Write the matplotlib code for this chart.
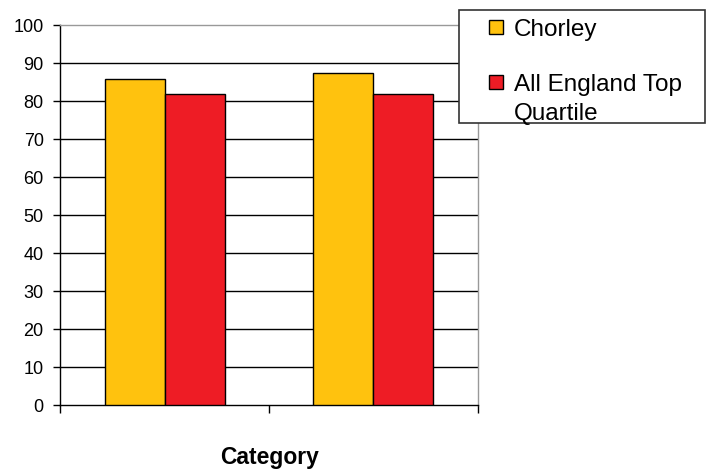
import matplotlib
matplotlib.use("Agg")
import matplotlib.pyplot as plt
from matplotlib.patches import Rectangle
from matplotlib.legend_handler import HandlerPatch
import numpy as np

categories = ["", ""]
series_names = ["Chorley", "All England Top\nQuartile"]
chorley = [85.9, 87.3]
england = [81.8, 81.8]
colors = ["#FFC20E", "#EE1C25"]
yticks = list(range(0, 101, 10))

plt.rcParams['font.family'] = ['Liberation Sans', 'DejaVu Sans']

W, H = 712, 471
fig = plt.figure(figsize=(W/100, H/100), dpi=100)
ax = fig.add_axes([60.3/W, 1-405/H, (477.7-60.3)/W, (405-25)/H])

x = np.arange(len(categories))
w = 0.287
b1 = ax.bar(x - w/2, chorley, w, color=colors[0], edgecolor="black", linewidth=1, label=series_names[0], zorder=3)
b2 = ax.bar(x + w/2, england, w, color=colors[1], edgecolor="black", linewidth=1, label=series_names[1], zorder=3)

ax.set_xlim(-0.5, len(categories) - 0.5)
ax.set_ylim(0, 100)
ax.set_yticks(yticks)
ax.set_yticklabels([str(t) for t in yticks], fontsize=13)
ax.set_xticks(np.arange(-0.5, len(categories), 1.0))
ax.set_xticklabels([])
ax.tick_params(axis='y', direction='out', length=5, width=1, color='black', pad=7)
ax.tick_params(axis='x', direction='out', length=5.5, width=1, color='black')

for t in yticks[1:-1]:
    ax.axhline(t, color='black', linewidth=1, zorder=1)

for s in ['top', 'right']:
    ax.spines[s].set_color('#999999')
    ax.spines[s].set_linewidth(1)
for s in ['left', 'bottom']:
    ax.spines[s].set_color('black')
    ax.spines[s].set_linewidth(1)

fig.text(269.7/W, 1-464/H, "Category", ha='center', va='baseline', fontsize=16.5, fontweight='bold')

# legend box
fig.patches.append(Rectangle((459.3/W, 1-123/H), (705-459.3)/W, (123-10)/H,
                             transform=fig.transFigure, facecolor='white',
                             edgecolor='#333333', linewidth=1.2, zorder=5))

fs = 17.5

def top_square(legend, orig_handle, xdescent, ydescent, width, height, fontsize):
    shift = 0.72 * fontsize
    return Rectangle((-xdescent, -ydescent + shift), width, height)

h1, h2 = b1.patches[0], b2.patches[0]
leg = fig.legend(handles=[h1, h2], labels=series_names, loc='upper left',
                 bbox_to_anchor=(489.3/W, 1-19/H),
                 fontsize=fs, frameon=False,
                 handlelength=14/24.3, handleheight=12/24.3, handletextpad=0.45,
                 labelspacing=1.35, borderpad=0, borderaxespad=0,
                 handler_map={h2: HandlerPatch(patch_func=top_square)})
for t in leg.get_texts():
    t.set_linespacing(1.45)
leg.set_zorder(6)

fig.savefig("out.png", dpi=100)
